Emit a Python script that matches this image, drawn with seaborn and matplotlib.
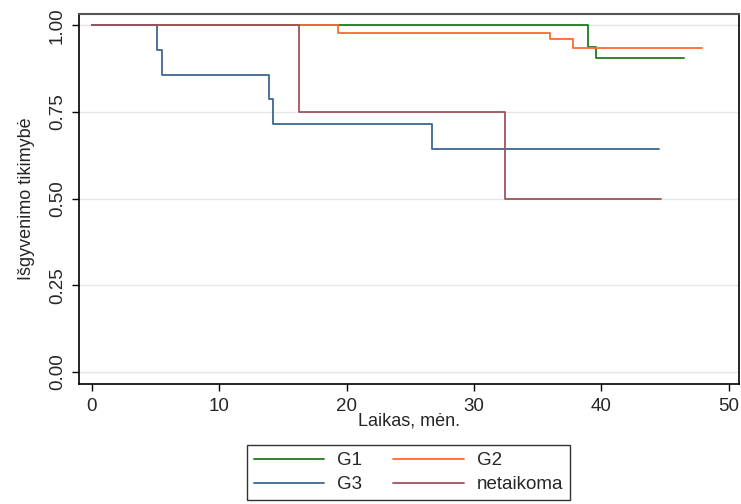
import matplotlib
matplotlib.use("Agg")
import matplotlib.pyplot as plt
import seaborn as sns
import pandas as pd

sns.set_theme(style="white")
plt.rcParams['font.family'] = ['Liberation Sans', 'DejaVu Sans']

# Kaplan-Meier step curves (time in months, survival)
g1_t = [0, 38.96, 39.6, 46.5]
g1_s = [1.0, 0.9375, 0.904, 0.904]
g2_t = [0, 19.3, 36.0, 37.8, 47.9]
g2_s = [1.0, 0.978, 0.96, 0.933, 0.933]
g3_t = [0, 5.08, 5.5, 13.9, 14.2, 26.7, 44.5]
g3_s = [1.0, 0.929, 0.857, 0.786, 0.714, 0.643, 0.643]
net_t = [0, 16.25, 32.4, 44.7]
net_s = [1.0, 0.75, 0.5, 0.5]

groups = ["G1", "G2", "G3", "netaikoma"]
colors = {"G1": "#1f7a1f", "G2": "#ff6a2e", "G3": "#3d6890", "netaikoma": "#a0525a"}

frames = []
for name, t, s in [("G1", g1_t, g1_s), ("G2", g2_t, g2_s),
                   ("G3", g3_t, g3_s), ("netaikoma", net_t, net_s)]:
    frames.append(pd.DataFrame({"laikas": t, "surv": s, "grupe": name}))
df = pd.concat(frames, ignore_index=True)

fig = plt.figure(figsize=(7.41, 5.04), dpi=100)
ax = fig.add_axes([0.1066, 0.238, 0.8904, 0.734])

for name in groups:
    sub = df[df["grupe"] == name]
    sns.lineplot(data=sub, x="laikas", y="surv", ax=ax, color=colors[name],
                 drawstyle="steps-post", linewidth=1.3, label=name,
                 estimator=None, sort=False, legend=False)

ax.set_xlim(-1.02, 50.8)
ax.set_ylim(-0.035, 1.032)
ax.set_xticks([0, 10, 20, 30, 40, 50])
ax.set_yticks([0, 0.25, 0.5, 0.75, 1.0])
ax.set_yticklabels(["0.00", "0.25", "0.50", "0.75", "1.00"], rotation=90, va="center")
ax.yaxis.grid(True, color="#e6e6e6", linewidth=1)
ax.xaxis.grid(False)
ax.tick_params(axis="both", direction="out", length=5, width=1, color="black",
               labelsize=13.5, left=True, bottom=True)
ax.tick_params(axis="x", pad=4.8)
ax.tick_params(axis="y", pad=4.5)
for side in ["left", "bottom", "right"]:
    ax.spines[side].set_color("black")
    ax.spines[side].set_linewidth(1.2)
ax.spines["top"].set_color("#555555")
ax.spines["top"].set_linewidth(1.5)

ax.set_xlabel("Laikas, mėn.", fontsize=13, labelpad=-1.5)
ax.set_ylabel("Išgyvenimo tikimybė", fontsize=13, labelpad=10)

# legend below the plot, two columns: G1 G2 / G3 netaikoma
handles = {l.get_label(): l for l in ax.get_lines()}
order = ["G1", "G3", "G2", "netaikoma"]
leg = fig.legend([handles[k] for k in order], order, ncol=2, loc="upper left",
                 bbox_to_anchor=(247 / 741, 1 - 445 / 504), frameon=True,
                 fancybox=False, edgecolor="black", fontsize=13.5,
                 handlelength=3.75, columnspacing=1.65, handletextpad=0.7,
                 borderpad=0.37, labelspacing=0.38, borderaxespad=0)
leg.get_frame().set_linewidth(1.0)

fig.savefig("out.png", dpi=100)
